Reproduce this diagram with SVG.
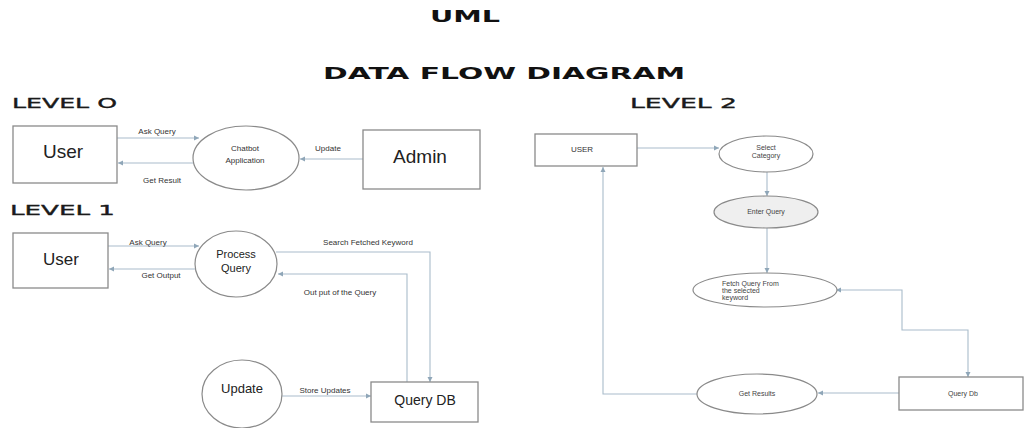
<svg xmlns="http://www.w3.org/2000/svg" width="1025" height="428" viewBox="0 0 1025 428">
<style>
.bg{fill:#ffffff}
.box{fill:#ffffff;stroke:#8a8a8a;stroke-width:1.3}
.ell{fill:#ffffff;stroke:#8a8a8a;stroke-width:1.2}
.ellg{fill:#efefef;stroke:#8a8a8a;stroke-width:1.2}
.ln{fill:none;stroke:#a9bccb;stroke-width:1.1}
.h{font-family:"DejaVu Sans",sans-serif;font-weight:bold;fill:#111}
.lv{font-family:"DejaVu Sans",sans-serif;font-weight:normal;fill:#1a1a1a;font-size:14px;stroke:#1a1a1a;stroke-width:0.35}
.big{font-family:"Liberation Sans",Arial,sans-serif;fill:#222;text-anchor:middle}
.sm{font-family:"Liberation Sans",Arial,sans-serif;fill:#333;font-size:8px;text-anchor:middle}
.xs{font-family:"Liberation Sans",Arial,sans-serif;fill:#444;font-size:7px;text-anchor:middle}
.xsl{font-family:"Liberation Sans",Arial,sans-serif;fill:#444;font-size:7px;text-anchor:start}
</style>
<defs>
<marker id="ah" markerWidth="6" markerHeight="6" refX="5" refY="3" orient="auto" markerUnits="userSpaceOnUse">
<path d="M0,0.5 L5,3 L0,5.5 Z" fill="#8fa6b8"/>
</marker>
<marker id="as" markerWidth="6" markerHeight="6" refX="1" refY="3" orient="auto" markerUnits="userSpaceOnUse">
<path d="M5,0.5 L0,3 L5,5.5 Z" fill="#8fa6b8"/>
</marker>
</defs>
<rect class="bg" x="0" y="0" width="1025" height="428"/>

<g id="titles">
<text class="h" x="430" y="22" font-size="16" textLength="70" lengthAdjust="spacingAndGlyphs">UML</text>
<text class="h" x="323" y="79" font-size="16" textLength="362" lengthAdjust="spacingAndGlyphs">DATA FLOW DIAGRAM</text>
<text class="lv" x="12" y="108" textLength="105" lengthAdjust="spacingAndGlyphs">LEVEL O</text>
<text class="lv" x="10" y="215" textLength="105" lengthAdjust="spacingAndGlyphs">LEVEL 1</text>
<text class="lv" x="630" y="108" textLength="107" lengthAdjust="spacingAndGlyphs">LEVEL 2</text>
</g>

<g id="connectors">
<line class="ln" x1="117" y1="138" x2="199" y2="138" marker-end="url(#ah)"/>
<line class="ln" x1="194" y1="163" x2="118" y2="163" marker-end="url(#ah)"/>
<line class="ln" x1="363" y1="159" x2="300" y2="159" marker-end="url(#ah)"/>
<line class="ln" x1="108" y1="246" x2="199" y2="246" marker-end="url(#ah)"/>
<line class="ln" x1="196" y1="269" x2="109" y2="269" marker-end="url(#ah)"/>
<polyline class="ln" points="276,252 430,252 430,382" marker-end="url(#ah)"/>
<polyline class="ln" points="407,382 407,274 278,274" marker-end="url(#ah)"/>
<line class="ln" x1="282" y1="396" x2="371" y2="396" marker-end="url(#ah)"/>
<line class="ln" x1="637" y1="148" x2="719" y2="148" marker-end="url(#ah)"/>
<line class="ln" x1="767" y1="172" x2="767" y2="196" marker-end="url(#ah)"/>
<line class="ln" x1="767" y1="228" x2="767" y2="273" marker-end="url(#ah)"/>
<polyline class="ln" points="837,290 902,290 902,330 968,330 968,377" marker-start="url(#as)" marker-end="url(#ah)"/>
<line class="ln" x1="899" y1="393" x2="818" y2="393" marker-end="url(#ah)"/>
<polyline class="ln" points="697,394 603,394 603,167" marker-end="url(#ah)"/>
</g>

<g class="sm" id="labels">
<text x="157" y="134">Ask Query</text>
<text x="162" y="183">Get Result</text>
<text x="328" y="151">Update</text>
<text x="148" y="245">Ask Query</text>
<text x="161" y="278">Get Output</text>
<text x="368" y="245">Search Fetched Keyword</text>
<text x="340" y="295">Out put of the Query</text>
<text x="325" y="393">Store Updates</text>
</g>

<g id="l0-user"><rect class="box" x="13" y="126" width="104" height="57"/><text class="big" x="63" y="158" font-size="19">User</text></g>
<g id="l0-chatbot"><ellipse class="ell" cx="246" cy="158" rx="53" ry="32"/><text class="sm" x="245" y="151">Chatbot</text><text class="sm" x="245" y="163">Application</text></g>
<g id="l0-admin"><rect class="box" x="363" y="130" width="117" height="59"/><text class="big" x="420" y="163" font-size="19">Admin</text></g>

<g id="l1-user"><rect class="box" x="13" y="233" width="95" height="55"/><text class="big" x="61" y="265" font-size="17">User</text></g>
<g id="l1-process"><ellipse class="ell" cx="236" cy="264" rx="41" ry="33"/><text class="big" x="236" y="258" font-size="11">Process</text><text class="big" x="236" y="272" font-size="11">Query</text></g>
<g id="l1-update"><ellipse class="ell" cx="242" cy="394" rx="40" ry="34"/><text class="big" x="242" y="393" font-size="13">Update</text></g>
<g id="l1-querydb"><rect class="box" x="371" y="382" width="107" height="40"/><text class="big" x="425" y="405" font-size="14">Query DB</text></g>

<g id="l2-user"><rect class="box" x="535" y="134" width="102" height="32"/><text class="sm" x="582" y="152" font-size="9">USER</text></g>
<g id="l2-select"><ellipse class="ell" cx="766" cy="154" rx="47" ry="18"/><text class="xs" x="766" y="150">Select</text><text class="xs" x="766" y="158">Category</text></g>
<g id="l2-enter"><ellipse class="ellg" cx="766" cy="212" rx="52" ry="16"/><text class="xs" x="766" y="214">Enter Query</text></g>
<g id="l2-fetch"><ellipse class="ell" cx="765" cy="290" rx="72" ry="17"/><text class="xsl" x="722" y="286">Fetch Query From</text><text class="xsl" x="722" y="293">the selected</text><text class="xsl" x="722" y="300">keyword</text></g>
<g id="l2-querydb"><rect class="box" x="899" y="377" width="124" height="33"/><text class="xs" x="963" y="396">Query Db</text></g>
<g id="l2-getresults"><ellipse class="ell" cx="757" cy="394" rx="60" ry="20"/><text class="xs" x="757" y="396">Get Results</text></g>
</svg>
